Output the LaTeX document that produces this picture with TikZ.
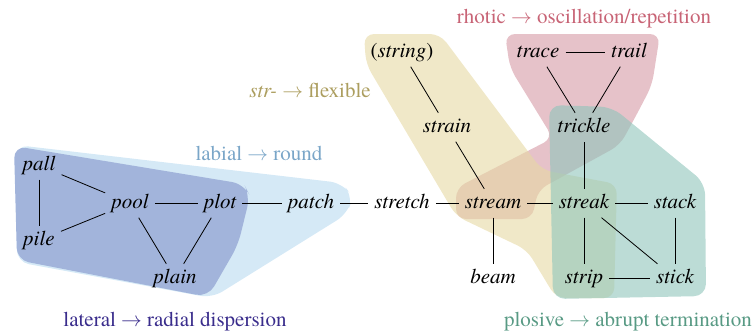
\documentclass[tikz,border=0pt]{standalone}
\usepackage{fontspec}
\setmainfont{TeX Gyre Termes}
\definecolor{lbl}{RGB}{213,233,246}
\definecolor{dbl}{RGB}{162,180,219}
\definecolor{yel}{RGB}{230,217,163}
\definecolor{pnk}{RGB}{213,153,165}
\definecolor{tea}{RGB}{143,197,187}
\definecolor{labialc}{RGB}{122,166,200}
\definecolor{lateralc}{RGB}{58,45,140}
\definecolor{strc}{RGB}{172,158,95}
\definecolor{rhoc}{RGB}{200,100,118}
\definecolor{ploc}{RGB}{88,154,132}
\begin{document}
\begin{tikzpicture}[x=1pt,y=-1pt,
  w/.style={font=\fontsize{21}{25}\selectfont\itshape, inner xsep=6pt, inner ysep=5pt, text height=14pt, text depth=4.5pt, anchor=base},
  lab/.style={font=\fontsize{21}{25}\selectfont, anchor=base},
  edge/.style={line width=0.8pt},
  reg/.style={rounded corners=10pt, fill opacity=0.6}]
\useasboundingbox (0,0) rectangle (756,333);
% regions
\fill[lbl, rounded corners=12pt] (16,145) -- (342,183) -- (353,197) -- (347,214) -- (212,298) -- (17,262) -- cycle;
\fill[dbl, rounded corners=12pt] (14,146) -- (244,184) -- (250,196) -- (238,245) -- (208,297) -- (17,260) -- cycle;
\fill[pnk, reg] (505,34) -- (660,34) -- (652,85) -- (638,112) -- (620,145) -- (538,190) -- (532,219) -- (456,219) -- (456,188) -- (553,138) -- (510,68) -- cycle;
\fill[yel, reg] (364,34) -- (440,34) -- (542,170) -- (617,184) -- (614,298) -- (556,298) -- (527,250) -- (456,216) -- (366,64) -- cycle;
\fill[tea, reg, rounded corners=12pt] (549,105) -- (612,107) -- (705,183) -- (706,296) -- (553,299) -- cycle;
% labels
\node[lab, text=labialc] (lbial) at (259,160) {labial $\rightarrow$ round};
\node[lab, text=lateralc] (llat) at (175,326) {lateral $\rightarrow$ radial dispersion};
\node[lab, text=strc] (lstr) at (310,97) {\textit{str-} $\rightarrow$ flexible};
\node[lab, text=rhoc] (lrho) at (584,23) {rhotic $\rightarrow$ oscillation/repetition};
\node[lab, text=ploc] (lplo) at (628,326) {plosive $\rightarrow$ abrupt termination};
% words
\node[w] (pall) at (39,170) {pall};
\node[w] (pile) at (39,245) {pile};
\node[w] (pool) at (130,208) {pool};
\node[w] (plot) at (220,208) {plot};
\node[w] (plain) at (175,283) {plain};
\node[w] (patch) at (311,208) {patch};
\node[w] (stretch) at (402,208) {stretch};
\node[w] (stream) at (493,208) {stream};
\node[w] (streak) at (584,208) {streak};
\node[w] (stack) at (675,208) {stack};
\node[w] (beam) at (493,283) {beam};
\node[w] (strip) at (584,283) {strip};
\node[w] (stick) at (675,283) {stick};
\node[w] (strain) at (447,132) {strain};
\node[w] (string) at (402,57) {\upshape(\textit{string})};
\node[w] (trickle) at (584,132) {trickle};
\node[w] (trace) at (538,57) {trace};
\node[w] (trail) at (629,57) {trail};
% edges
\draw[edge] (pall) -- (pool);
\draw[edge] (pall) -- (pile);
\draw[edge] (pile) -- (pool);
\draw[edge] (pool) -- (plot);
\draw[edge] (pool) -- (plain);
\draw[edge] (plot) -- (plain);
\draw[edge] (plot) -- (patch);
\draw[edge] (patch) -- (stretch);
\draw[edge] (stretch) -- (stream);
\draw[edge] (stream) -- (streak);
\draw[edge] (streak) -- (stack);
\draw[edge] (stream) -- (beam);
\draw[edge] (stream) -- (strain);
\draw[edge] (strain) -- (string);
\draw[edge] (streak) -- (trickle);
\draw[edge] (trickle) -- (trace);
\draw[edge] (trickle) -- (trail);
\draw[edge] (trace) -- (trail);
\draw[edge] (streak) -- (strip);
\draw[edge] (streak) -- (stick);
\draw[edge] (stack) -- (stick);
\draw[edge] (strip) -- (stick);
\end{tikzpicture}
\end{document}
